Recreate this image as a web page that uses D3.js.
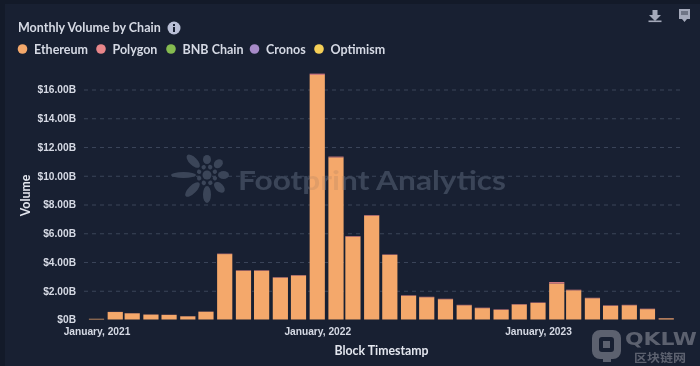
<!DOCTYPE html>
<html>
<head>
<meta charset="utf-8">
<script src="https://d3js.org/d3.v7.min.js"></script>
<style>
  html, body { margin: 0; padding: 0; background: #131a29; }
  svg { display: block; font-family: Lato, "Open Sans", sans-serif; filter: blur(0.35px); }
  .tick text { fill: #d5d9e4; font-size: 10.2px; font-weight: 700; }
</style>
</head>
<body>
<svg id="chart" width="700" height="366"></svg>
<script>
// Monthly Volume by Chain, billions of USD
const MONTHS = d3.timeMonth.range(new Date(2021, 0, 1), new Date(2023, 8, 1));
const CHAINS = ["Ethereum", "Polygon", "BNB Chain", "Cronos", "Optimism"];
const COLORS = ["#f4a86b", "#e8868a", "#85bb50", "#a78bc9", "#f5cf57"];
const ethereum = [0.05, 0.52, 0.43, 0.34, 0.32, 0.22, 0.54, 4.55, 3.39, 3.39, 2.91, 3.06, 17.02, 11.28, 5.76, 7.22, 4.49, 1.65, 1.55, 1.41, 0.99, 0.79, 0.67, 1.04, 1.15, 2.5, 2.03, 1.48, 0.95, 0.99, 0.72, 0.08];
const polygon  = [0, 0.01, 0.01, 0.01, 0.01, 0.01, 0.01, 0.03, 0.03, 0.03, 0.03, 0.03, 0.08, 0.05, 0.04, 0.04, 0.03, 0.03, 0.03, 0.03, 0.03, 0.03, 0.03, 0.03, 0.03, 0.1, 0.04, 0.03, 0.03, 0.03, 0.03, 0.01];
const bnb      = MONTHS.map(() => 0);
const cronos   = MONTHS.map(() => 0);
const optimism = MONTHS.map(() => 0);
const Y_TICKS  = [0, 2, 4, 6, 8, 10, 12, 14, 16];
const X_TICKS  = [new Date(2021, 0, 1), new Date(2022, 0, 1), new Date(2023, 0, 1)];

const svg = d3.select("#chart");
const M = { top: 60, right: 20, bottom: 46.5, left: 84 };
const VW = 700, VH = 366;

// card background
svg.append("rect").attr("x", 5).attr("y", 4).attr("width", VW - 5).attr("height", VH - 4).attr("fill", "#182032");

const x = d3.scaleTime()
  .domain([new Date(2021, 0, 1), new Date(2023, 0, 1)])
  .range([96.5, 538]);
const y = d3.scaleLinear().domain([0, 16]).range([VH - M.bottom, 89.5]);
const BAR_W = 15.2;

// gridlines + y axis
const yAxis = svg.append("g").attr("transform", `translate(${M.left},0)`)
  .call(d3.axisLeft(y).tickValues(Y_TICKS).tickSize(0).tickPadding(8)
    .tickFormat(d => d === 0 ? "$0B" : `$${d3.format(".2f")(d)}B`));
yAxis.select(".domain").remove();
yAxis.selectAll(".tick line")
  .attr("x2", VW - M.right - M.left)
  .attr("stroke", "#3a4459")
  .attr("stroke-width", 1)
  .attr("stroke-dasharray", "4,4")
  .filter(d => d === 0).remove();

// watermark, drawn under the bars and again very faintly over them
const PETALS = [20, 21, 22, 24, 28, 30, 36, 28];
function drawMark(parent) {
  const wm = parent.append("g").attr("fill", "#3b4558");
  wm.append("text").attr("x", 238).attr("y", 190).attr("font-size", 27).attr("font-weight", 700)
    .attr("textLength", 268).attr("lengthAdjust", "spacingAndGlyphs")
    .text("Footprint Analytics");
  const flower = wm.append("g").attr("transform", "translate(207,175)");
  PETALS.forEach((r, i) => {
    const inner = 11;
    flower.append("ellipse").attr("cx", 0).attr("cy", -(r + inner) / 2)
      .attr("rx", i === 6 ? 3 : 4).attr("ry", (r - inner) / 2)
      .attr("transform", `rotate(${i * 45})`);
    flower.append("circle").attr("cx", 0).attr("cy", -8.5).attr("r", 2.2)
      .attr("transform", `rotate(${i * 45 + 22})`);
  });
  flower.append("circle").attr("r", 4.5);
  return wm;
}
drawMark(svg);

// stacked bars
const rows = MONTHS.map((m, i) => ({
  month: m, Ethereum: ethereum[i], Polygon: polygon[i], "BNB Chain": bnb[i], Cronos: cronos[i], Optimism: optimism[i]
}));
const layers = d3.stack().keys(CHAINS)(rows);
svg.append("g").selectAll("g").data(layers).join("g")
  .attr("fill", (d, i) => COLORS[i])
  .selectAll("rect").data(d => d).join("rect")
  .attr("x", d => x(d.data.month) - BAR_W / 2)
  .attr("y", d => y(d[1]))
  .attr("width", BAR_W)
  .attr("height", d => y(d[0]) - y(d[1]));

drawMark(svg).attr("opacity", 0.1);

// x axis
const xAxis = svg.append("g").attr("transform", `translate(0,${VH - M.bottom + 2})`)
  .call(d3.axisBottom(x).tickValues(X_TICKS).tickSize(0).tickPadding(6)
    .tickFormat(d3.timeFormat("%B, %Y")));
xAxis.select(".domain").remove();

// axis titles
svg.append("text").attr("x", 381.5).attr("y", 355).attr("text-anchor", "middle")
  .attr("fill", "#e3e6ee").attr("font-size", 12.3).attr("font-weight", 700).text("Block Timestamp");
svg.append("text").attr("transform", "translate(30,195.5) rotate(-90)").attr("text-anchor", "middle")
  .attr("fill", "#e3e6ee").attr("font-size", 12.3).attr("font-weight", 700).text("Volume");

// title + info icon
svg.append("text").attr("x", 18).attr("y", 32).attr("fill", "#d5d9e4")
  .attr("font-size", 12.5).attr("font-weight", 700).text("Monthly Volume by Chain");
svg.append("circle").attr("cx", 174).attr("cy", 28).attr("r", 6.5).attr("fill", "#b9bfd6");
svg.append("rect").attr("x", 173).attr("y", 27).attr("width", 2).attr("height", 5).attr("fill", "#182032");
svg.append("rect").attr("x", 173).attr("y", 24).attr("width", 2).attr("height", 2).attr("fill", "#182032");

// legend
const LEGEND_X = [22.5, 101, 171, 254.5, 319];
const legend = svg.append("g").selectAll("g").data(CHAINS).join("g")
  .attr("transform", (d, i) => `translate(${LEGEND_X[i]},49)`);
legend.append("circle").attr("r", 4.8).attr("fill", (d, i) => COLORS[i]);
legend.append("text").attr("x", 11.5).attr("y", 4.5).attr("fill", "#d5d9e4")
  .attr("font-size", 12.5).attr("font-weight", 700).text(d => d);

// toolbar icons
const tools = svg.append("g").attr("fill", "#a4a9ba");
tools.append("path").attr("d", "M652.5 10h5v5h3.5l-6 6-6-6h3.5z");
tools.append("rect").attr("x", 648.5).attr("y", 20.5).attr("width", 13).attr("height", 1.6);
tools.append("path").attr("d", "M679 9h11v10h-3l-2.5 3-2.5-3h-3z");
tools.append("rect").attr("x", 681).attr("y", 11).attr("width", 7).attr("height", 4).attr("fill", "#6f7585");

// bottom-right site mark
const QK = "#5c616f";
const qk = svg.append("g");
qk.append("path").attr("fill-rule", "evenodd").attr("fill", QK)
  .attr("d", "M600 330h13a8 8 0 0 1 8 8v13a8 8 0 0 1-8 8h-2v3h-8v-3h-3a8 8 0 0 1-8-8v-13a8 8 0 0 1 8-8zM602 337a3 3 0 0 0-3 3v9a3 3 0 0 0 3 3h9a3 3 0 0 0 3-3v-9a3 3 0 0 0-3-3z");
qk.append("rect").attr("x", 603).attr("y", 341).attr("width", 7).attr("height", 7).attr("fill", QK);
qk.append("text").attr("x", 625).attr("y", 345).attr("fill", QK)
  .attr("font-family", "'DejaVu Sans'").attr("font-size", 17).attr("font-weight", 700)
  .attr("textLength", 72).attr("lengthAdjust", "spacingAndGlyphs").text("QKLW");
qk.append("text").attr("x", 634).attr("y", 361.5).attr("fill", QK)
  .attr("font-family", "'Noto Sans CJK SC'").attr("font-size", 11.5).attr("font-weight", 700)
  .attr("textLength", 52).attr("lengthAdjust", "spacingAndGlyphs").text("区块链网");
</script>
</body>
</html>
